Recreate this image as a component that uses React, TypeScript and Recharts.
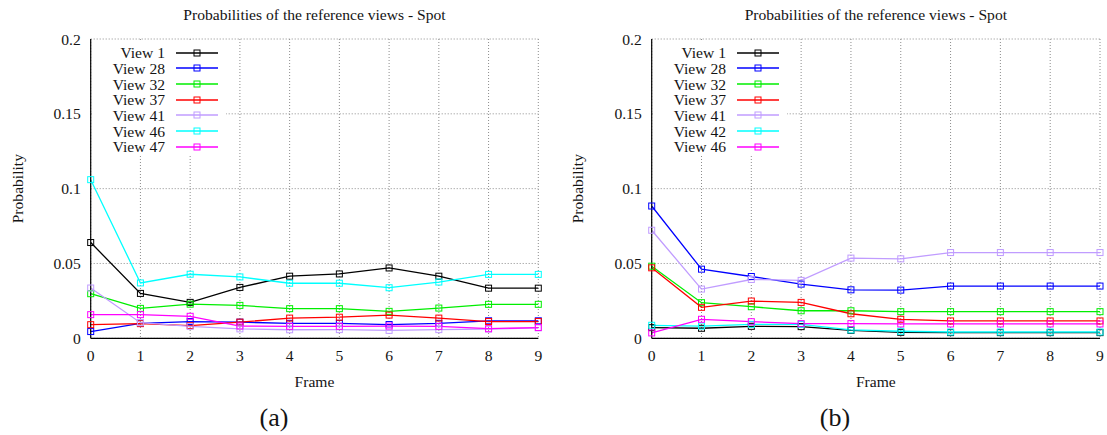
import React from 'react';
import { LineChart, Line, XAxis, YAxis, CartesianGrid, Legend } from 'recharts';

// ---------- data ----------
const frames = [0, 1, 2, 3, 4, 5, 6, 7, 8, 9];
const yTicks = [0, 0.05, 0.1, 0.15, 0.2];

const namesA = ['View 1', 'View 28', 'View 32', 'View 37', 'View 41', 'View 46', 'View 47'];
const a_view1 = [0.064, 0.030, 0.024, 0.034, 0.0415, 0.043, 0.047, 0.0415, 0.0335, 0.0335];
const a_view28 = [0.0045, 0.0100, 0.0112, 0.0108, 0.0100, 0.0100, 0.0092, 0.0100, 0.0117, 0.0117];
const a_view32 = [0.0298, 0.0200, 0.0228, 0.0220, 0.0198, 0.0198, 0.0180, 0.0202, 0.0227, 0.0227];
const a_view37 = [0.0091, 0.0098, 0.0085, 0.0108, 0.0135, 0.0141, 0.0155, 0.0135, 0.0112, 0.0112];
const a_view41 = [0.0336, 0.0104, 0.0080, 0.0063, 0.0057, 0.0058, 0.0053, 0.0058, 0.0062, 0.0070];
const a_view46 = [0.106, 0.037, 0.0428, 0.041, 0.0368, 0.0368, 0.0338, 0.0376, 0.0427, 0.0427];
const a_view47 = [0.0158, 0.0158, 0.0147, 0.0082, 0.0080, 0.0080, 0.0082, 0.0080, 0.0064, 0.0072];

const namesB = ['View 1', 'View 28', 'View 32', 'View 37', 'View 41', 'View 42', 'View 46'];
const b_view1 = [0.0071, 0.0067, 0.0080, 0.0078, 0.0053, 0.0040, 0.0038, 0.0038, 0.0038, 0.0038];
const b_view28 = [0.0884, 0.0462, 0.0413, 0.0362, 0.0324, 0.0322, 0.0349, 0.0349, 0.0349, 0.0349];
const b_view32 = [0.0482, 0.0238, 0.0211, 0.0184, 0.0184, 0.0178, 0.0178, 0.0178, 0.0178, 0.0178];
const b_view37 = [0.0471, 0.0207, 0.0249, 0.0240, 0.0164, 0.0127, 0.0116, 0.0116, 0.0116, 0.0116];
const b_view41 = [0.0722, 0.0329, 0.0393, 0.0387, 0.0536, 0.0531, 0.0573, 0.0573, 0.0573, 0.0573];
const b_view42 = [0.0087, 0.0082, 0.0093, 0.0093, 0.0056, 0.0047, 0.0042, 0.0042, 0.0042, 0.0042];
const b_view46 = [0.0036, 0.0127, 0.0111, 0.0098, 0.0098, 0.0096, 0.0096, 0.0096, 0.0096, 0.0096];

const seriesA = [a_view1, a_view28, a_view32, a_view37, a_view41, a_view46, a_view47];
const seriesB = [b_view1, b_view28, b_view32, b_view37, b_view41, b_view42, b_view46];

// ---------- styles ----------
const colorsA = ['#000000', '#0000ff', '#00ee00', '#ff0000', '#c09cff', '#00ffff', '#ff00ff'];
const colorsB = ['#000000', '#0000ff', '#00ee00', '#ff0000', '#c09cff', '#00ffff', '#ff00ff'];

const FONT = '"Liberation Serif", "Times New Roman", serif';
const FS = 15.6;
const TXT = '#141414';

function buildRows(series: number[][]) {
  return frames.map((f, i) => {
    const row: Record<string, number> = { frame: f };
    series.forEach((s, k) => {
      row['s' + k] = s[i];
    });
    return row;
  });
}

function SquareDot(props: any) {
  const { cx, cy, stroke, index } = props;
  if (cx == null || cy == null) return null;
  return (
    <rect key={'d' + index} x={cx - 3} y={cy - 3} width={6} height={6} fill="none" stroke={stroke} strokeWidth={1} />
  );
}

function makeLegend(names: string[], colors: string[]) {
  return () => (
    <div style={{ paddingTop: 4, background: '#fff', width: 134, height: 114, boxSizing: 'border-box' }}>
      {names.map((n, i) => (
        <div key={n} style={{ display: 'flex', alignItems: 'center', height: 15.67 }}>
          <span
            style={{
              width: 73,
              textAlign: 'right',
              fontFamily: FONT,
              fontSize: FS,
              lineHeight: '15px',
              color: TXT,
              whiteSpace: 'nowrap',
            }}
          >
            {n}
          </span>
          <svg width={42} height={10} style={{ marginLeft: 11, display: 'block' }}>
            <line x1={0} y1={5} x2={42} y2={5} stroke={colors[i]} strokeWidth={1.3} />
            <rect x={18} y={2} width={6} height={6} fill="none" stroke={colors[i]} strokeWidth={1} />
          </svg>
        </div>
      ))}
    </div>
  );
}

type PanelProps = {
  left: number;
  width: number;
  plotLeft: number;
  plotRight: number;
  series: number[][];
  names: string[];
  colors: string[];
  caption: string;
  captionCenter: number;
};

function Panel(p: PanelProps) {
  const rows = buildRows(p.series);
  const tickStyle = { fill: TXT, fontSize: FS, fontFamily: FONT };
  const Leg = makeLegend(p.names, p.colors);
  return (
    <>
      <div
        style={{
          position: 'absolute',
          left: p.left + p.plotLeft,
          width: p.plotRight - p.plotLeft,
          top: 6,
          textAlign: 'center',
          fontFamily: FONT,
          fontSize: FS,
          lineHeight: '18px',
          color: TXT,
          whiteSpace: 'nowrap',
        }}
      >
        Probabilities of the reference views - Spot
      </div>
      <div style={{ position: 'absolute', left: p.left, top: 0 }}>
        <LineChart
          width={p.width}
          height={435}
          data={rows}
          margin={{ top: 39, right: p.width - p.plotRight, bottom: 36.7, left: 0 }}
        >
          <CartesianGrid stroke="#8c8c8c" strokeDasharray="1 2" />
          <XAxis
            dataKey="frame"
            type="number"
            domain={[0, 9]}
            ticks={frames}
            interval={0}
            tickSize={0}
            tickMargin={12}
            tickLine={false}
            axisLine={{ stroke: '#000', strokeWidth: 1.2 }}
            height={60}
            tick={tickStyle}
            label={{ value: 'Frame', position: 'insideBottom', offset: 11, fill: TXT, fontSize: FS, fontFamily: FONT }}
          />
          <XAxis
            xAxisId="top"
            orientation="top"
            mirror
            type="number"
            domain={[0, 9]}
            ticks={frames}
            interval={0}
            tick={false}
            tickSize={5}
            tickLine={{ stroke: '#000' }}
            axisLine={{ stroke: '#000', strokeWidth: 1.2 }}
            height={0}
          />
          <XAxis
            xAxisId="bot"
            orientation="bottom"
            mirror
            type="number"
            domain={[0, 9]}
            ticks={frames}
            interval={0}
            tick={false}
            tickSize={5}
            tickLine={{ stroke: '#000' }}
            axisLine={false}
            height={0}
          />
          <YAxis
            type="number"
            domain={[0, 0.2]}
            ticks={yTicks}
            interval={0}
            width={p.plotLeft}
            tickSize={0}
            tickMargin={10}
            tickLine={false}
            axisLine={{ stroke: '#000', strokeWidth: 1.2 }}
            tick={tickStyle}
            label={{
              value: 'Probability',
              angle: -90,
              position: 'insideLeft',
              offset: 17.5,
              fill: TXT,
              fontSize: FS,
              fontFamily: FONT,
              style: { textAnchor: 'middle' },
            }}
          />
          <YAxis
            yAxisId="l2"
            mirror
            type="number"
            domain={[0, 0.2]}
            ticks={yTicks}
            interval={0}
            tick={false}
            tickSize={5}
            tickLine={{ stroke: '#000' }}
            axisLine={false}
            width={0}
          />
          <YAxis
            yAxisId="r2"
            orientation="right"
            mirror
            type="number"
            domain={[0, 0.2]}
            ticks={yTicks}
            interval={0}
            tick={false}
            tickSize={5}
            tickLine={{ stroke: '#000' }}
            axisLine={{ stroke: '#000', strokeWidth: 1.2 }}
            width={0}
          />
          <Legend
            layout="vertical"
            align="center"
            verticalAlign="middle"
            content={Leg}
            wrapperStyle={{ left: p.plotLeft + 1.3, top: 41, width: 134, height: 114, margin: 0, padding: 0 }}
          />
          {p.names.map((n, k) => (
            <Line
              key={n}
              name={n}
              dataKey={'s' + k}
              stroke={p.colors[k]}
              strokeWidth={1.3}
              dot={SquareDot}
              activeDot={false}
              isAnimationActive={false}
              type="linear"
            />
          ))}
        </LineChart>
      </div>
      <div
        style={{
          position: 'absolute',
          left: p.captionCenter - 50,
          width: 100,
          top: 403,
          textAlign: 'center',
          fontFamily: FONT,
          fontSize: 26,
          lineHeight: '30px',
          color: TXT,
        }}
      >
        {p.caption}
      </div>
    </>
  );
}

export default function App() {
  return (
    <div style={{ position: 'absolute', left: 0, top: 0, width: 1107, height: 435, background: '#fff', overflow: 'hidden' }}>
      <Panel
        left={0}
        width={553}
        plotLeft={90.7}
        plotRight={538.3}
        series={seriesA}
        names={namesA}
        colors={colorsA}
        caption="(a)"
        captionCenter={274}
      />
      <Panel
        left={560}
        width={547}
        plotLeft={91.7}
        plotRight={540}
        series={seriesB}
        names={namesB}
        colors={colorsB}
        caption="(b)"
        captionCenter={835}
      />
    </div>
  );
}
